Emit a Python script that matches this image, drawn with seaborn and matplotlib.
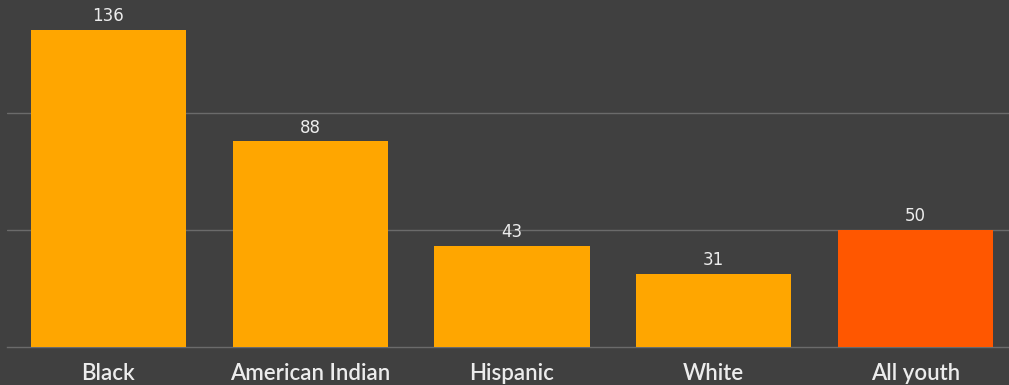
import matplotlib
matplotlib.use("Agg")
import matplotlib.pyplot as plt
import seaborn as sns
import pandas as pd

# data
groups = ["Black", "American Indian", "Hispanic", "White", "All youth"]
rates = [136, 88, 43, 31, 50]
bar_colors = ["#FFA600", "#FFA600", "#FFA600", "#FFA600", "#FF5700"]

bg = "#404040"
grid_col = "#6b6b6b"
text_col = "#ececec"

sns.set_style("dark")
plt.rcParams["font.family"] = ["Lato", "DejaVu Sans"]

df = pd.DataFrame({"group": groups, "rate": rates})

fig = plt.figure(figsize=(10.09, 3.85), dpi=100, facecolor=bg)
ax = fig.add_axes([7 / 1009, 0.1, 1 - 7 / 1009, 0.9])
ax.set_facecolor(bg)

sns.barplot(data=df, x="group", y="rate", hue="group", palette=bar_colors,
            legend=False, width=0.77, saturation=1, linewidth=0, ax=ax, zorder=3)

for i, v in enumerate(rates):
    ax.annotate(str(v), (i, v), xytext=(0, 3.5), textcoords="offset points",
                ha="center", va="bottom", color=text_col, fontsize=12,
                family=["DejaVu Sans"])

ax.set_xlim(-0.503, 4.463)
ax.set_ylim(0, 148.7)
ax.set_yticks([50, 100])
ax.yaxis.grid(True, color=grid_col, linewidth=1)
ax.xaxis.grid(False)
ax.set_yticklabels([])
ax.tick_params(axis="y", length=0)
ax.tick_params(axis="x", length=0, pad=12, labelsize=16, labelcolor=text_col)
for lbl in ax.get_xticklabels():
    lbl.set_fontweight("semibold")
ax.set_xlabel("")
ax.set_ylabel("")
for s in ["top", "right", "left"]:
    ax.spines[s].set_visible(False)
ax.spines["bottom"].set_color(grid_col)
ax.spines["bottom"].set_linewidth(1)

fig.savefig("out.png", dpi=100, facecolor=bg)
